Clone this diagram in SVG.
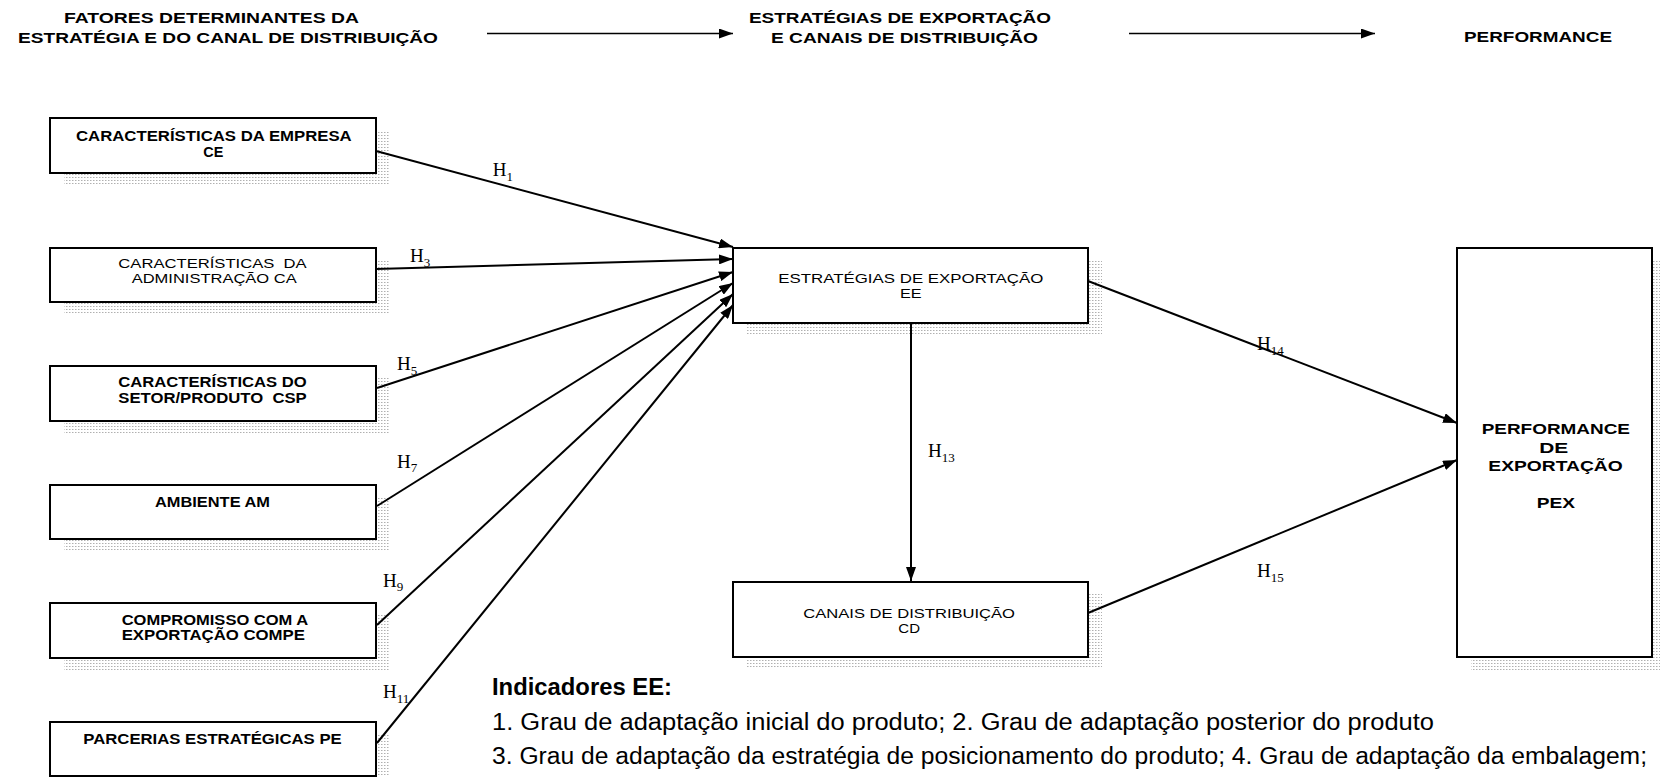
<svg xmlns="http://www.w3.org/2000/svg" width="1660" height="777" viewBox="0 0 1660 777">
  <defs>
    <!-- fine dot screen used for the drop shadows -->
    <pattern id="dots" width="3" height="3" patternUnits="userSpaceOnUse">
      <rect width="1.5" height="1" fill="#b0b0b0"/>
    </pattern>
    <marker id="arr" viewBox="0 0 14 10" refX="14" refY="5" markerWidth="14" markerHeight="10" markerUnits="userSpaceOnUse" orient="auto">
      <path d="M0,0 L14,5 L0,10 z" fill="#000"/>
    </marker>
  </defs>
  <style>
    .box{fill:#fff;stroke:#000;stroke-width:2}
    .shadow{fill:url(#dots)}
    .b{font-family:"Liberation Sans",Arial,sans-serif;font-weight:bold;font-size:14px;fill:#000}
    .r{font-family:"Liberation Sans",Arial,sans-serif;font-size:13px;fill:#000}
    .h{font-family:"Liberation Serif","Times New Roman",serif;font-size:19px;fill:#000}
    .sub{font-size:13px}
    .edge{stroke:#000;stroke-width:2;fill:none;marker-end:url(#arr)}
    .head{stroke:#000;stroke-width:1.6;fill:none;marker-end:url(#arr)}
    .note{font-family:"Liberation Sans",Arial,sans-serif;font-size:23px;fill:#000}
  </style>
  <rect width="1660" height="777" fill="#fff"/>

  <!-- column headings -->
  <g id="headings">
    <text class="b" x="64" y="22.5" textLength="295" lengthAdjust="spacingAndGlyphs">FATORES DETERMINANTES DA</text>
    <text class="b" x="18" y="43" textLength="420" lengthAdjust="spacingAndGlyphs">ESTRATÉGIA E DO CANAL DE DISTRIBUIÇÃO</text>
    <text class="b" x="749" y="22.5" textLength="302" lengthAdjust="spacingAndGlyphs">ESTRATÉGIAS DE EXPORTAÇÃO</text>
    <text class="b" x="771" y="43" textLength="267" lengthAdjust="spacingAndGlyphs">E CANAIS DE DISTRIBUIÇÃO</text>
    <text class="b" x="1464" y="42" textLength="148" lengthAdjust="spacingAndGlyphs">PERFORMANCE</text>
    <path class="head" d="M487,33.5 L733,33.5"/>
    <path class="head" d="M1129,33.5 L1375,33.5"/>
  </g>

  <!-- determinant factors -->
  <g id="ce">
    <rect class="shadow" x="64" y="130" width="326" height="55"/>
    <rect class="box" x="50" y="118" width="326" height="55"/>
    <text class="b" x="76" y="140.7" textLength="275.7" lengthAdjust="spacingAndGlyphs">CARACTERÍSTICAS DA EMPRESA</text>
    <text class="b" x="203.3" y="156.7" textLength="20" lengthAdjust="spacingAndGlyphs">CE</text>
  </g>
  <g id="ca">
    <rect class="shadow" x="64" y="260" width="326" height="54"/>
    <rect class="box" x="50" y="248" width="326" height="54"/>
    <text class="r" x="118.3" y="268.3" textLength="188.4" lengthAdjust="spacingAndGlyphs" xml:space="preserve">CARACTERÍSTICAS  DA</text>
    <text class="r" x="131.7" y="283.3" textLength="165" lengthAdjust="spacingAndGlyphs">ADMINISTRAÇÃO CA</text>
  </g>
  <g id="csp">
    <rect class="shadow" x="64" y="378" width="326" height="55"/>
    <rect class="box" x="50" y="366" width="326" height="55"/>
    <text class="b" x="118.3" y="386.7" textLength="188.4" lengthAdjust="spacingAndGlyphs">CARACTERÍSTICAS DO</text>
    <text class="b" x="118.3" y="403.3" textLength="188.4" lengthAdjust="spacingAndGlyphs" xml:space="preserve">SETOR/PRODUTO  CSP</text>
  </g>
  <g id="am">
    <rect class="shadow" x="64" y="497" width="326" height="54"/>
    <rect class="box" x="50" y="485" width="326" height="54"/>
    <text class="b" x="155" y="506.7" textLength="115" lengthAdjust="spacingAndGlyphs">AMBIENTE AM</text>
  </g>
  <g id="compe">
    <rect class="shadow" x="64" y="615" width="326" height="55"/>
    <rect class="box" x="50" y="603" width="326" height="55"/>
    <text class="b" x="121.7" y="625" textLength="186.6" lengthAdjust="spacingAndGlyphs">COMPROMISSO COM A</text>
    <text class="b" x="121.7" y="640" textLength="183.3" lengthAdjust="spacingAndGlyphs">EXPORTAÇÃO COMPE</text>
  </g>
  <g id="pe">
    <rect class="shadow" x="64" y="734" width="326" height="54"/>
    <rect class="box" x="50" y="722" width="326" height="54"/>
    <text class="b" x="83.3" y="744" textLength="258.4" lengthAdjust="spacingAndGlyphs">PARCERIAS ESTRATÉGICAS PE</text>
  </g>

  <!-- strategy and channel -->
  <g id="ee">
    <rect class="shadow" x="747" y="260" width="355" height="75"/>
    <rect class="box" x="733" y="248" width="355" height="75"/>
    <text class="r" x="778.3" y="283.3" textLength="265" lengthAdjust="spacingAndGlyphs">ESTRATÉGIAS DE EXPORTAÇÃO</text>
    <text class="r" x="900" y="298.3" textLength="21.7" lengthAdjust="spacingAndGlyphs">EE</text>
  </g>
  <g id="cd">
    <rect class="shadow" x="747" y="594" width="355" height="75"/>
    <rect class="box" x="733" y="582" width="355" height="75"/>
    <text class="r" x="803.3" y="618.3" textLength="211.7" lengthAdjust="spacingAndGlyphs">CANAIS DE DISTRIBUIÇÃO</text>
    <text class="r" x="898.3" y="632.7" textLength="21.7" lengthAdjust="spacingAndGlyphs">CD</text>
  </g>

  <!-- outcome -->
  <g id="pex">
    <rect class="shadow" x="1471" y="261" width="195" height="409"/>
    <rect class="box" x="1457" y="248" width="195" height="409"/>
    <text class="b" x="1481.7" y="434.3" textLength="148.3" lengthAdjust="spacingAndGlyphs">PERFORMANCE</text>
    <text class="b" x="1539.3" y="452.7" textLength="29" lengthAdjust="spacingAndGlyphs">DE</text>
    <text class="b" x="1488.3" y="471" textLength="134.4" lengthAdjust="spacingAndGlyphs">EXPORTAÇÃO</text>
    <text class="b" x="1536.7" y="508.3" textLength="38.3" lengthAdjust="spacingAndGlyphs">PEX</text>
  </g>

  <!-- hypothesis paths -->
  <g id="connectors">
    <path class="edge" d="M376,151 L733,247"/>
    <path class="edge" d="M376,269 L733,259"/>
    <path class="edge" d="M377,388 L733,272"/>
    <path class="edge" d="M377,506 L733,283"/>
    <path class="edge" d="M377,625 L733,294"/>
    <path class="edge" d="M377,743 L733,305"/>
    <path class="edge" d="M911,323 L911,581"/>
    <path class="edge" d="M1088,281 L1457,423"/>
    <path class="edge" d="M1088,613 L1457,460"/>
  </g>

  <!-- hypothesis labels -->
  <g id="labels">
    <text class="h" x="492.7" y="176">H<tspan class="sub" dy="5">1</tspan></text>
    <text class="h" x="410" y="262.3">H<tspan class="sub" dy="4.5">3</tspan></text>
    <text class="h" x="397" y="370">H<tspan class="sub" dy="4.5">5</tspan></text>
    <text class="h" x="397" y="467.7">H<tspan class="sub" dy="4.5">7</tspan></text>
    <text class="h" x="383" y="586.7">H<tspan class="sub" dy="4.5">9</tspan></text>
    <text class="h" x="383" y="698.3">H<tspan class="sub" dy="4.5">11</tspan></text>
    <text class="h" x="928" y="457">H<tspan class="sub" dy="4.5">13</tspan></text>
    <text class="h" x="1257" y="350">H<tspan class="sub" dy="4.5">14</tspan></text>
    <text class="h" x="1257" y="577">H<tspan class="sub" dy="4.5">15</tspan></text>
  </g>

  <!-- indicator list -->
  <g id="indicadores">
    <text class="note" x="492" y="695" font-weight="bold" textLength="180" lengthAdjust="spacingAndGlyphs">Indicadores EE:</text>
    <text class="note" x="492" y="730" textLength="942" lengthAdjust="spacingAndGlyphs">1. Grau de adaptação inicial do produto; 2. Grau de adaptação posterior do produto</text>
    <text class="note" x="492" y="764" textLength="1155" lengthAdjust="spacingAndGlyphs">3. Grau de adaptação da estratégia de posicionamento do produto; 4. Grau de adaptação da embalagem;</text>
  </g>
</svg>
